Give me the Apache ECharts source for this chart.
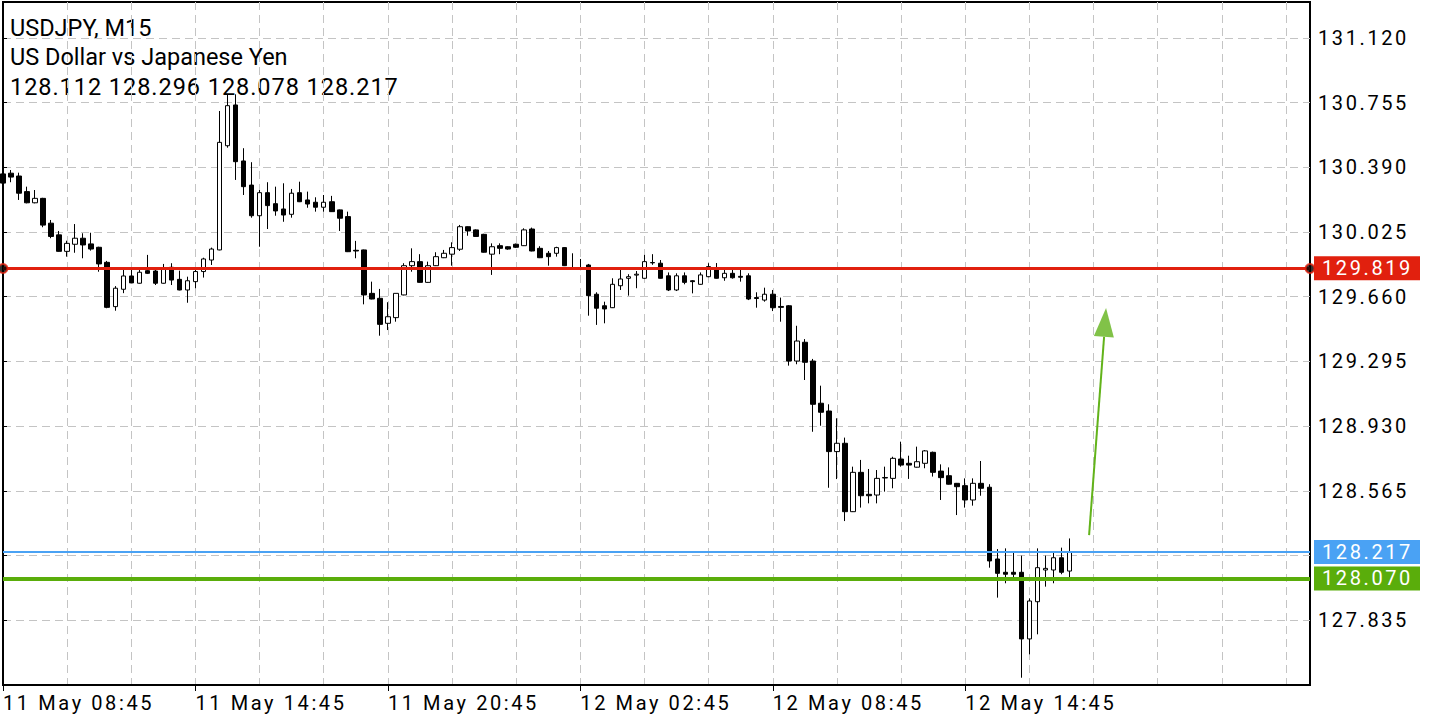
<!DOCTYPE html>
<html><head><meta charset="utf-8">
<script src="https://cdn.jsdelivr.net/npm/echarts@6/dist/echarts.min.js"></script>
<style>
html,body{margin:0;padding:0;background:#fff;}
#chart{width:1440px;height:720px;}
#chart text[style*="lsp"]{letter-spacing:2.6px;}
#chart text[style*="lnum"]{letter-spacing:0.95px;}
</style></head><body><div id="chart"></div>
<script>
const titleLines = ['USDJPY, M15', 'US Dollar vs Japanese Yen', '128.112 128.296 128.078 128.217'];

const opens = [130.353,130.357,130.341,130.253,130.190,130.215,130.075,130.009,129.916,129.956,
129.990,129.958,129.939,129.854,129.604,129.702,129.777,129.736,129.807,129.805,
129.736,129.826,129.758,129.698,129.745,129.802,129.867,129.924,130.512,130.742,
130.426,130.290,130.117,130.247,130.185,130.155,130.125,130.247,130.206,130.193,
130.165,130.196,130.150,130.112,129.922,129.924,129.679,129.651,129.510,129.542,
129.670,129.835,129.858,129.741,129.835,129.880,129.900,129.928,130.055,130.037,
130.012,129.900,129.948,129.942,129.956,129.948,130.042,129.933,129.905,129.905,
129.937,129.824,129.817,129.839,129.674,129.609,129.598,129.722,129.764,129.782,
129.764,129.853,129.849,129.778,129.698,129.778,129.750,129.730,129.773,129.824,
129.767,129.792,129.775,129.778,129.655,129.641,129.674,129.605,129.609,129.297,
129.403,129.297,129.059,129.015,128.786,128.833,128.447,128.669,128.545,128.541,
128.637,128.635,128.744,128.720,128.698,128.720,128.782,128.676,128.650,128.607,
128.594,128.513,128.607,128.585,128.180,128.105,128.105,128.105,127.729,127.939,
128.118,128.118,128.187,128.112];
const highs = [130.365,130.375,130.360,130.281,130.262,130.218,130.093,130.031,129.976,130.070,
130.018,130.021,129.942,129.862,129.720,129.820,129.820,129.820,129.896,129.811,
129.845,129.849,129.807,129.773,129.811,129.880,129.937,130.708,130.804,130.802,
130.498,130.419,130.262,130.306,130.281,130.300,130.268,130.309,130.253,130.221,
130.234,130.229,130.152,130.140,129.975,129.926,129.745,129.704,129.629,129.679,
129.849,129.933,129.900,129.858,129.911,129.924,129.967,130.065,130.057,130.040,
130.015,129.961,129.961,129.945,129.960,130.046,130.050,129.945,129.918,129.942,
129.940,129.905,129.873,129.845,129.685,129.632,129.764,129.820,129.787,129.805,
129.896,129.900,129.867,129.797,129.792,129.797,129.754,129.797,129.849,129.850,
129.817,129.817,129.817,129.792,129.685,129.711,129.698,129.655,129.613,129.496,
129.421,129.309,129.158,129.053,128.974,128.865,128.701,128.739,128.688,128.682,
128.701,128.757,128.842,128.763,128.814,128.795,128.786,128.714,128.697,128.609,
128.635,128.635,128.733,128.602,128.236,128.240,128.225,128.199,127.958,128.240,
128.199,128.218,128.244,128.296];
const lows = [130.290,130.306,130.206,130.187,130.187,130.052,129.990,129.914,129.886,129.908,
129.877,129.920,129.801,129.595,129.581,129.680,129.736,129.734,129.788,129.726,
129.734,129.726,129.696,129.626,129.708,129.768,129.839,129.922,130.501,130.319,
130.234,130.106,129.942,130.042,130.117,130.083,130.106,130.194,130.162,130.140,
130.140,130.138,130.031,129.912,129.877,129.617,129.645,129.440,129.472,129.519,
129.668,129.801,129.739,129.739,129.833,129.878,129.835,129.918,130.004,129.998,
129.909,129.783,129.900,129.925,129.935,129.946,129.916,129.878,129.835,129.886,
129.833,129.813,129.810,129.553,129.501,129.510,129.596,129.698,129.666,129.708,
129.762,129.840,129.762,129.692,129.692,129.730,129.679,129.728,129.770,129.762,
129.750,129.762,129.745,129.641,129.598,129.632,129.579,129.519,129.271,129.279,
129.190,128.898,128.932,128.582,128.631,128.394,128.445,128.470,128.494,128.494,
128.560,128.579,128.701,128.632,128.696,128.692,128.645,128.513,128.600,128.428,
128.470,128.481,128.537,128.131,127.962,128.043,128.056,127.510,127.642,127.755,
128.024,128.043,128.094,128.078];
const closes = [130.301,130.335,130.244,130.190,130.215,130.064,130.000,129.916,129.961,129.990,
129.952,129.929,129.845,129.600,129.708,129.777,129.738,129.798,129.792,129.736,
129.820,129.754,129.698,129.750,129.802,129.873,129.929,130.531,130.738,130.422,
130.281,130.117,130.247,130.174,130.144,130.121,130.244,130.196,130.183,130.165,
130.193,130.140,130.103,129.914,129.918,129.670,129.647,129.504,129.547,129.679,
129.835,129.858,129.741,129.835,129.886,129.905,129.937,130.055,130.031,130.000,
129.911,129.942,129.933,129.929,129.939,130.037,129.918,129.880,129.886,129.937,
129.835,129.817,129.815,129.666,129.595,129.591,129.730,129.760,129.773,129.787,
129.858,129.851,129.764,129.698,129.778,129.741,129.745,129.783,129.830,129.764,
129.792,129.767,129.770,129.647,129.650,129.674,129.598,129.600,129.297,129.410,
129.290,129.053,129.008,128.786,128.833,128.447,128.669,128.537,128.537,128.635,
128.640,128.748,128.710,128.710,128.729,128.790,128.669,128.639,128.602,128.588,
128.513,128.607,128.579,128.169,128.099,128.094,128.094,127.729,127.943,128.131,
128.127,128.187,128.105,128.217];

const startTimeUTC = Date.UTC(2022, 4, 11, 8, 45);
const stepMinutes = 15;
const totalSlots = 164;
const monthNames = ['Jan','Feb','Mar','Apr','May','Jun','Jul','Aug','Sep','Oct','Nov','Dec'];

const yTickValues = [131.120,130.755,130.390,130.025,129.660,129.295,128.930,128.565,128.200,127.835];
const yLabelValues = [131.120,130.755,130.390,130.025,129.660,129.295,128.930,128.565,127.835];
const yMin = 127.469, yMax = 131.323;

const resistanceLevel = 129.819;
const bidLevel = 128.217;
const supportLevel = 128.070;
// arrow annotation: shaft start, shaft end (head base), head centre, head tilt (deg)
const arrowFrom = [135.45, 128.315];
const arrowShaftEnd = [137.32, 129.433];
const arrowHead = [137.43, 129.515];
const arrowTilt = -4.3;

const RED = '#e1200e', BLUE = '#4aa2f4', GREEN = '#5aad0b', ARROW = '#62b31a';
const FONT = 'Roboto, lsp';

function pad(n){ return (n < 10 ? '0' : '') + n; }
const categories = [];
for (let i = 0; i < totalSlots; i++) {
  const d = new Date(startTimeUTC + i * stepMinutes * 60000);
  categories.push(d.getUTCDate() + ' ' + monthNames[d.getUTCMonth()] + ' ' + pad(d.getUTCHours()) + ':' + pad(d.getUTCMinutes()));
}
const lastBar = opens.length - 1;
const candleData = opens.map((o, i) => [o, closes[i], lows[i], highs[i]]);

function priceLine(value, color, width) {
  return {
    yAxis: value,
    lineStyle: { color: color, width: width, type: 'solid' },
    label: {
      show: true, position: 'end', distance: 4,
      formatter: () => value.toFixed(3),
      color: '#fff', fontSize: 20, fontFamily: FONT,
      backgroundColor: color, padding: [3, 8, 1, 8], width: 90
    }
  };
}

const chart = echarts.init(document.getElementById('chart'), null, { renderer: 'svg' });
chart.setOption({
  animation: false,
  backgroundColor: '#fff',
  grid: { left: 2, right: 130, top: 2, bottom: 35, show: true, borderColor: '#000', borderWidth: 2, backgroundColor: 'transparent' },
  xAxis: [{
    type: 'category', data: categories, boundaryGap: false,
    axisLine: { show: true, lineStyle: { color: '#000', width: 2 } },
    axisTick: { show: true, length: 6, interval: (i) => i % 24 === 0 && i <= lastBar, lineStyle: { color: '#000', width: 1 } },
    axisLabel: { show: true, interval: (i) => i % 24 === 0 && i <= lastBar, align: 'left', margin: 8, fontSize: 20, fontFamily: FONT, color: '#000' },
    splitLine: { show: true, interval: (i) => i % 8 === 0, lineStyle: { color: '#c4c4c4', width: 1, type: [8, 5] } }
  }, {
    type: 'value', min: 0, max: totalSlots - 1, show: false
  }],
  yAxis: [{
    type: 'value', position: 'right', min: yMin, max: yMax, scale: true,
    axisLine: { show: true, lineStyle: { color: '#000', width: 2 } },
    axisTick: { show: true, length: 4, customValues: yTickValues, lineStyle: { color: '#000' } },
    axisLabel: { show: true, customValues: yLabelValues, formatter: (v) => v.toFixed(3), margin: 8, fontSize: 20, fontFamily: FONT, color: '#000' },
    splitLine: { show: true, lineStyle: { color: '#c4c4c4', width: 1, type: [8, 5] } }
  }],
  graphic: titleLines.map((t, i) => ({
    type: 'text', x: 10, y: [28, 57, 87][i],
    style: { text: t, fontSize: 23.5, fontFamily: i === 2 ? 'Roboto, lnum' : 'Roboto', fill: '#000', verticalAlign: 'middle' }
  })),
  series: [{
    type: 'candlestick', data: candleData, barWidth: 5,
    itemStyle: { color: '#fff', color0: '#000', borderColor: '#000', borderColor0: '#000', borderColorDoji: '#000', borderWidth: 1 },
    markLine: {
      silent: true, symbol: ['none', 'none'], animation: false,
      data: [priceLine(resistanceLevel, RED, 3), priceLine(bidLevel, BLUE, 2), priceLine(supportLevel, GREEN, 4)]
    }
  }, {
    type: 'scatter', xAxisIndex: 1, yAxisIndex: 0, clip: false, silent: true, z: 6,
    data: [[0, resistanceLevel], [totalSlots - 1, resistanceLevel]],
    symbol: 'circle', symbolSize: 9,
    itemStyle: { color: '#000', borderColor: RED, borderWidth: 2 }
  }, {
    type: 'lines', coordinateSystem: 'cartesian2d', xAxisIndex: 1, yAxisIndex: 0, silent: true, z: 5,
    symbol: ['none', 'none'],
    lineStyle: { color: ARROW, width: 2, opacity: 1, curveness: 0 },
    data: [{ coords: [arrowFrom, arrowShaftEnd] }]
  }, {
    type: 'scatter', xAxisIndex: 1, yAxisIndex: 0, clip: false, silent: true, z: 5,
    data: [arrowHead], symbol: 'triangle', symbolSize: [20, 29], symbolRotate: arrowTilt,
    itemStyle: { color: ARROW }
  }]
});
</script></body></html>
